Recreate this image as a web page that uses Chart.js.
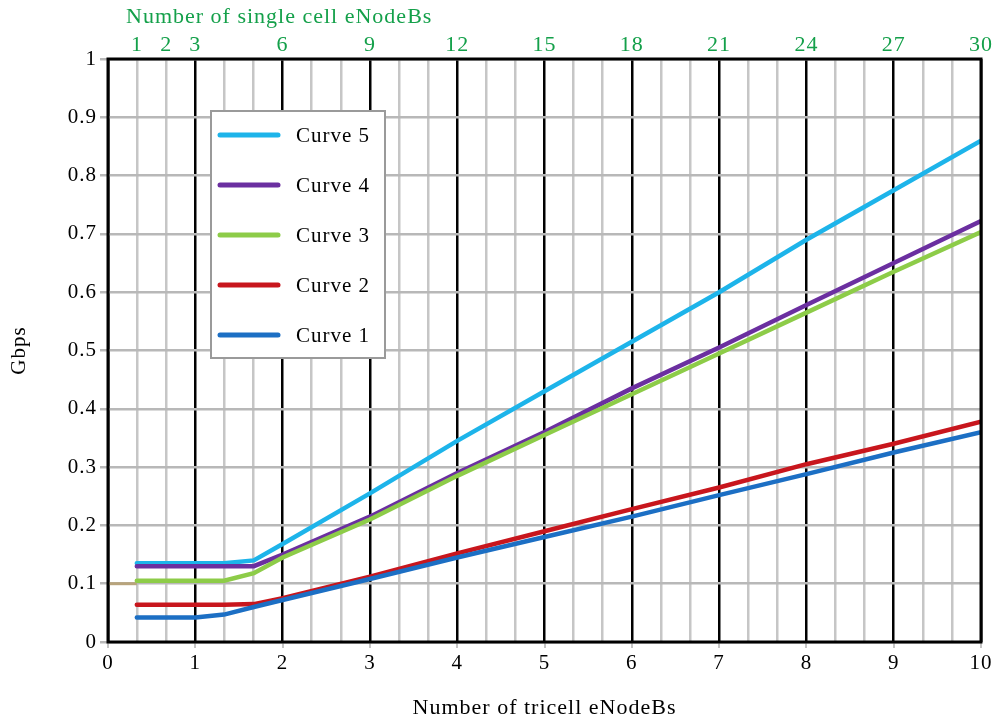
<!DOCTYPE html>
<html>
<head>
<meta charset="utf-8">
<script src="https://cdn.jsdelivr.net/npm/chart.js@4"></script>
<style>
  html, body { margin: 0; padding: 0; background: #fff; }
  #wrap { width: 1002px; height: 724px; position: relative; }
</style>
</head>
<body>
<div id="wrap"><canvas id="chart" width="1002" height="724"></canvas></div>
<script>
// tricell eNodeBs (x positions of read points)
const xs = [0.33, 1, 1.33, 1.67, 2, 3, 4, 5, 6, 7, 8, 9, 10];
const curve1 = [0.042, 0.042, 0.047, 0.06, 0.072, 0.108, 0.145, 0.18, 0.215, 0.252, 0.288, 0.325, 0.36];
const curve2 = [0.064, 0.064, 0.064, 0.065, 0.075, 0.112, 0.152, 0.19, 0.228, 0.265, 0.305, 0.34, 0.378];
const curve3 = [0.105, 0.105, 0.105, 0.118, 0.145, 0.21, 0.285, 0.355, 0.425, 0.495, 0.565, 0.635, 0.703];
const curve4 = [0.13, 0.13, 0.13, 0.13, 0.15, 0.215, 0.29, 0.36, 0.435, 0.505, 0.578, 0.65, 0.722];
const curve5 = [0.135, 0.135, 0.135, 0.14, 0.168, 0.255, 0.345, 0.43, 0.515, 0.6, 0.69, 0.775, 0.86];
const baseX = [0, 0.33];
const baseY = [0.1, 0.1];

const topTicks = [1, 2, 3, 6, 9, 12, 15, 18, 21, 24, 27, 30];
const bottomTicks = [0, 1, 2, 3, 4, 5, 6, 7, 8, 9, 10];

const serif = '"Liberation Serif", "Times New Roman", serif';
const green = '#14a04a';

function pts(ys, xv) {
    return ys.map((y, i) => ({ x: (xv || xs)[i], y }));
}

function line(label, ys, color) {
    return {
        label, data: pts(ys), borderColor: color, backgroundColor: color,
        borderWidth: 4.5, pointRadius: 0, tension: 0, borderCapStyle: 'round'
    };
}

// legend box inside the plot, plus frame and top title
const extras = {
    id: 'extras',
    beforeDraw(chart) {
        chart.ctx.letterSpacing = '1px';
    },
    afterDatasetsDraw(chart) {
        const ctx = chart.ctx;
        const a = chart.chartArea;
        ctx.save();
        // frame
        ctx.strokeStyle = '#000';
        ctx.lineWidth = 3;
        ctx.strokeRect(a.left, a.top, a.right - a.left, a.bottom - a.top);

        // legend
        ctx.fillStyle = '#fff';
        ctx.fillRect(211, 111, 174, 247);
        ctx.strokeStyle = '#9a9a9a';
        ctx.lineWidth = 2;
        ctx.strokeRect(211, 111, 174, 247);
        const items = chart.data.datasets.filter(d => d.label).slice().reverse();
        ctx.font = '21px ' + serif;
        ctx.textBaseline = 'middle';
        ctx.textAlign = 'left';
        items.forEach((d, i) => {
            const y = 135 + i * 50;
            ctx.strokeStyle = d.borderColor;
            ctx.lineWidth = 5;
            ctx.lineCap = 'round';
            ctx.beginPath();
            ctx.moveTo(220, y);
            ctx.lineTo(278, y);
            ctx.stroke();
            ctx.fillStyle = '#000';
            ctx.fillText(d.label, 296, y + 1);
        });

        // top axis title
        ctx.fillStyle = green;
        ctx.font = '22px ' + serif;
        ctx.textBaseline = 'middle';
        ctx.fillText('Number of single cell eNodeBs', 126, 17);
        ctx.restore();
    }
};

new Chart(document.getElementById('chart'), {
    type: 'line',
    data: {
        datasets: [
            line('Curve 1', curve1, '#1c6fc4'),
            line('Curve 2', curve2, '#c8161d'),
            line('Curve 3', curve3, '#8dcc48'),
            line('Curve 4', curve4, '#6b2fa0'),
            line('Curve 5', curve5, '#1db4ea'),
            {
                data: pts(baseY, baseX), borderColor: '#b8a47c',
                borderWidth: 3, pointRadius: 0
            }
        ]
    },
    options: {
        responsive: false,
        animation: false,
        layout: { padding: { left: 0, right: 21, top: 0, bottom: 0 } },
        plugins: { legend: { display: false }, tooltip: { enabled: false } },
        scales: {
            x: {
                type: 'linear', position: 'bottom', min: 0, max: 10,
                afterBuildTicks: s => { s.ticks = bottomTicks.map(v => ({ value: v })); },
                afterFit: s => { s.height = 82; },
                grid: { drawOnChartArea: false, color: '#c4c4c4', lineWidth: 2, tickLength: 6 },
                border: { display: false },
                ticks: { color: '#000', font: { family: serif, size: 21 }, padding: 3, maxRotation: 0 },
                title: {
                    display: true, text: 'Number of tricell eNodeBs', color: '#000',
                    font: { family: serif, size: 22 }, padding: { top: 0, bottom: 3 }
                }
            },
            x2: {
                type: 'linear', position: 'top', min: 0, max: 30,
                afterBuildTicks: s => {
                    const t = [];
                    for (let v = 0; v <= 30; v++) t.push({ value: v });
                    s.ticks = t;
                },
                afterFit: s => { s.height = 59; },
                grid: {
                    color: c => (c.tick && c.tick.value % 3 === 0) ? '#000' : '#c6c6c6',
                    lineWidth: 2.5,
                    tickLength: 0
                },
                border: { display: false },
                ticks: {
                    autoSkip: false, maxRotation: 0, color: green, padding: 1,
                    font: { family: serif, size: 22 },
                    callback: v => topTicks.includes(v) ? String(v) : ''
                }
            },
            y: {
                min: 0, max: 1,
                afterBuildTicks: s => {
                    const t = [];
                    for (let i = 0; i <= 10; i++) t.push({ value: i / 10 });
                    s.ticks = t;
                },
                afterFit: s => { s.width = 108; },
                grid: { color: '#b8b8b8', lineWidth: 2.5, tickLength: 8 },
                border: { display: false },
                ticks: {
                    color: '#000', font: { family: serif, size: 21 }, padding: 3,
                    callback: v => (v === 0 || v === 1) ? String(v) : v.toFixed(1)
                },
                title: {
                    display: true, text: 'Gbps', color: '#000',
                    font: { family: serif, size: 21 }, padding: { top: 7, bottom: 0 }
                }
            }
        }
    },
    plugins: [extras]
});
</script>
</body>
</html>
